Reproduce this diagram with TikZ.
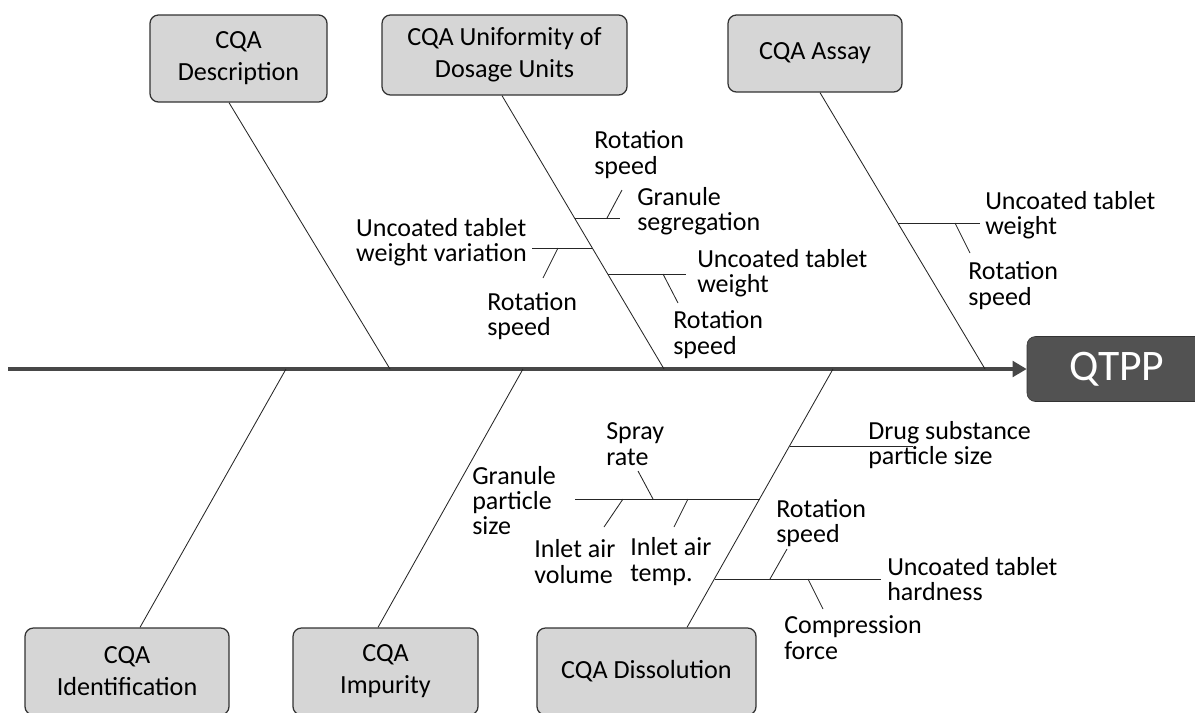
\documentclass[tikz,border=0pt]{standalone}
\usepackage{fontspec}
\setmainfont{Carlito}
\usepackage{tikz}
\usetikzlibrary{arrows.meta, positioning}
\newdimen\pxu
\pxu=0.025cm

\begin{document}
\begin{tikzpicture}[x=0.025cm, y=-0.025cm,
    cqa/.style={shape=rectangle, rounded corners=6pt, draw=black!80, line width=0.9pt, fill=black!16, align=center, inner sep=0pt, font=\fontsize{18.6}{22.7}\selectfont},
    goal/.style={shape=rectangle, rounded corners=6pt, draw=black!80, fill=black!68, text=white, inner sep=0pt, font=\fontsize{31}{33}\selectfont},
    lbl/.style={anchor=west, align=left, inner sep=0pt, font=\fontsize{18.5}{18}\selectfont},
    bone/.style={draw=black!85, line width=0.6pt},
    spine/.style={draw=black!72, line width=2.8pt, -{Triangle[length=10pt, width=11pt]}}]
    \useasboundingbox (0,0) rectangle (1195,712);
    \clip (0,0) rectangle (1195,712);

    % CQA boxes
    \node[cqa, minimum width=177\pxu, minimum height=87\pxu] (desc) at (238.5,58.5) {CQA\\Description};
    \node[cqa, minimum width=245\pxu, minimum height=80\pxu] (unif) at (504.5,55) {CQA Uniformity of\\Dosage Units};
    \node[cqa, minimum width=174\pxu, minimum height=77\pxu] (assay) at (815,53.5) {CQA Assay};
    \node[cqa, minimum width=204\pxu, minimum height=87\pxu] (ident) at (127,671.5) {CQA\\Identification};
    \node[cqa, minimum width=185\pxu, minimum height=87\pxu] (impur) at (385.5,671.5) {CQA\\Impurity};
    \node[cqa, minimum width=219\pxu, minimum height=87\pxu] (dissol) at (646.5,671.5) {CQA Dissolution};
    \node[goal, minimum width=180\pxu, minimum height=65\pxu] (qtpp) at (1117,369) {QTPP};

    % spine and bones
    \coordinate (tail) at (8,369);
    \coordinate (jdesc) at (390,369);
    \coordinate (junif) at (664,369);
    \coordinate (jassay) at (985,369);
    \coordinate (jident) at (286,369);
    \coordinate (jimpur) at (523,369);
    \coordinate (jdiss) at (833,369);
    \draw[spine] (tail) -- (qtpp.west);
    \draw[bone] ([xshift=-9.5\pxu]desc.south) -- (jdesc);
    \draw[bone] ([xshift=-2.5\pxu]unif.south) -- (junif);
    \draw[bone] ([xshift=5\pxu]assay.south) -- (jassay);
    \draw[bone] ([xshift=13\pxu]ident.north) -- (jident);
    \draw[bone] ([xshift=-7.5\pxu]impur.north) -- (jimpur);
    \draw[bone] ([xshift=40.5\pxu]dissol.north) -- (jdiss);

    % causes
    \node[lbl] (rs1) at (594,154.5) {Rotation\\speed};
    \node[lbl] (gseg) at (637,211) {Granule\\segregation};
    \node[lbl, anchor=east] (utwv) at (527,242.5) {Uncoated tablet\\weight variation};
    \node[lbl] (rs2) at (487,316) {Rotation\\speed};
    \node[lbl] (utw1) at (697,273.5) {Uncoated tablet\\weight};
    \node[lbl] (rs3) at (673,334.5) {Rotation\\speed};
    \node[lbl] (utw2) at (985,215) {Uncoated tablet\\weight};
    \node[lbl] (rs4) at (968,285.5) {Rotation\\speed};
    \node[lbl] (dsps) at (868,445) {Drug substance\\particle size};
    \node[lbl] (gps) at (472,500.5) {Granule\\particle\\size};
    \node[lbl] (spray) at (606,444) {Spray\\rate};
    \node[lbl] (iav) at (534,561.5) {Inlet air\\volume};
    \node[lbl] (iat) at (630,561.5) {Inlet air\\temp.};
    \node[lbl] (rs5) at (776,523) {Rotation\\speed};
    \node[lbl] (cf) at (784,637.5) {Compression\\force};
    \node[lbl] (uth) at (887,579) {Uncoated tablet\\hardness};

    \coordinate (u1) at (574.7,218); \coordinate (u1e) at (620,218);
    \coordinate (u2) at (592.5,248); \coordinate (u2e) at (532,248);
    \coordinate (u3) at (607.8,274); \coordinate (u3e) at (686,274);
    \coordinate (a1) at (898,223);   \coordinate (a1e) at (980,223);
    \coordinate (d1) at (789.6,446); \coordinate (d1e) at (913,446);
    \coordinate (d2) at (759.7,499); \coordinate (d2e) at (575,499);
    \coordinate (d3) at (714.6,579); \coordinate (d3e) at (881,579);
    \foreach \a in {u1, u2, u3, a1, d1, d2, d3}
      \draw[bone] (\a) -- (\a e);

    % small ribs
    \coordinate (r1) at (607,218); \coordinate (r1e) at (622,190);
    \coordinate (r2) at (558,248); \coordinate (r2e) at (543,278);
    \coordinate (r3) at (663,274); \coordinate (r3e) at (678,303);
    \coordinate (r4) at (955,223); \coordinate (r4e) at (970,253);
    \coordinate (r5) at (653,499); \coordinate (r5e) at (638,471);
    \coordinate (r6) at (623,499); \coordinate (r6e) at (604,527);
    \coordinate (r7) at (688,499); \coordinate (r7e) at (674,527);
    \coordinate (r8) at (770,579); \coordinate (r8e) at (787,549);
    \coordinate (r9) at (808,579); \coordinate (r9e) at (823,609);
    \foreach \a in {r1, r2, r3, r4, r5, r6, r7, r8, r9}
      \draw[bone] (\a) -- (\a e);
\end{tikzpicture}
\end{document}
